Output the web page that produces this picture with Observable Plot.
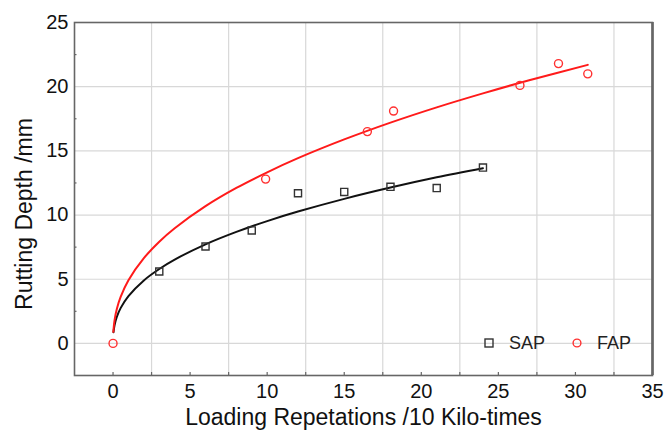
<!DOCTYPE html>
<html>
<head>
<meta charset="utf-8">
<script src="https://cdn.jsdelivr.net/npm/d3@7"></script>
<script src="https://cdn.jsdelivr.net/npm/@observablehq/plot@0.6"></script>
<style>
  html, body { margin: 0; padding: 0; background: #fff; }
  #wrap { position: relative; width: 665px; height: 439px; font-family: "Liberation Sans", Arial, sans-serif; }
  .leg { position: absolute; font-size: 18px; color: #222; line-height: 1; }
</style>
</head>
<body>
<div id="wrap"></div>
<script>
// ---- data ----
const sapX = [3, 6, 9, 12, 15, 18, 21, 24];
const sapY = [5.6, 7.55, 8.8, 11.7, 11.8, 12.2, 12.1, 13.7];

const fapX = [0, 9.9, 16.5, 18.2, 26.4, 28.9, 30.8];
const fapY = [0, 12.8, 16.5, 18.1, 20.1, 21.8, 21.0];

// fitted curves
const sapFitX = [0.03, 0.1, 0.25, 0.5, 1, 2, 3, 4, 6, 8, 10, 12, 15, 18, 21, 24];
const sapFitY = [0.87, 1.43, 2.08, 2.77, 3.69, 4.91, 5.80, 6.53, 7.72, 8.69, 9.53, 10.27, 11.26, 12.14, 12.94, 13.65];

const fapFitX = [0.02, 0.1, 0.25, 0.5, 1, 2, 3, 4, 6, 8, 10, 12, 15, 18, 21, 24, 27, 30.8];
const fapFitY = [0.90, 1.82, 2.70, 3.64, 4.92, 6.64, 7.92, 8.97, 10.69, 12.11, 13.33, 14.43, 15.89, 17.20, 18.39, 19.48, 20.50, 21.70];

const xDomain = [-2.5, 35];
const yDomain = [-2.5, 25];
const xTicks = [0, 5, 10, 15, 20, 25, 30, 35];
const xGrid = [2.5, 7.5, 12.5, 17.5, 22.5, 27.5, 32.5];
const yTicks = [0, 5, 10, 15, 20, 25];
const yGrid = [0, 5, 10, 15, 20];
const yMinor = [2.5, 7.5, 12.5, 17.5, 22.5];

const xLabel = "Loading Repetations /10 Kilo-times";
const yLabel = "Rutting Depth /mm";
const seriesNames = ["SAP", "FAP"];

// ---- build ----
const W = 665, H = 439;
const mL = 74, mT = 22, mR = 13, mB = 64;
const plotW = W - mL - mR, plotH = H - mT - mB;

const sap = sapX.map((x, i) => ({x, y: sapY[i]}));
const fap = fapX.map((x, i) => ({x, y: fapY[i]}));
const sapFit = sapFitX.map((x, i) => ({x, y: sapFitY[i]}));
const fapFit = fapFitX.map((x, i) => ({x, y: fapFitY[i]}));

const gridColor = "#d8d8d8";
const axisColor = "#666";

const chart = Plot.plot({
  width: W, height: H,
  marginLeft: mL, marginTop: mT, marginRight: mR, marginBottom: mB,
  style: {fontFamily: "Liberation Sans, Arial, sans-serif", fontSize: "20px", color: "#111", background: "white"},
  x: {domain: xDomain},
  y: {domain: yDomain},
  marks: [
    Plot.ruleX(xGrid, {x: d => d, stroke: gridColor, strokeWidth: 1.2}),
    Plot.ruleY(yGrid, {y: d => d, stroke: gridColor, strokeWidth: 1.2}),
    // inward ticks
    Plot.ruleX(xTicks, {x: d => d, insetTop: plotH - 3, stroke: axisColor, strokeWidth: 1.2}),
    Plot.ruleX(xGrid, {x: d => d, insetTop: plotH - 3, stroke: axisColor, strokeWidth: 1.2}),
    Plot.ruleY(yMinor, {y: d => d, insetRight: plotW - 2.5, stroke: axisColor, strokeWidth: 1.2}),
    Plot.axisX({ticks: xTicks, tickSize: 0, tickPadding: 8, label: null, fontSize: 20}),
    Plot.axisY({ticks: yTicks, tickSize: 0, tickPadding: 6, label: null, fontSize: 20}),
    Plot.frame({stroke: axisColor, strokeWidth: 1.6}),
    Plot.ruleX([xDomain[1]], {x: d => d, stroke: axisColor, strokeWidth: 2.6}),
    Plot.line(sapFit, {x: "x", y: "y", curve: "catmull-rom", stroke: "#111", strokeWidth: 2}),
    Plot.line(fapFit, {x: "x", y: "y", curve: "catmull-rom", stroke: "#ff1a1a", strokeWidth: 2}),
    Plot.dot(sap, {x: "x", y: "y", symbol: "square", r: 4, stroke: "#333", strokeWidth: 1.4, fill: "none"}),
    Plot.dot(fap, {x: "x", y: "y", symbol: "circle", r: 4, stroke: "#ff3030", strokeWidth: 1.4, fill: "none"}),
    Plot.text([xLabel], {text: d => d, frameAnchor: "bottom", dy: 49, fontSize: 23, fill: "#111"}),
    Plot.text([yLabel], {text: d => d, frameAnchor: "left", textAnchor: "middle", dx: -50, dy: 15, rotate: -90, fontSize: 23, fill: "#111"})
  ]
});

const wrap = document.getElementById("wrap");
wrap.appendChild(chart);

// legend overlay
function legendItem(symbolSvg, name, left, top) {
  const d = document.createElement("div");
  d.className = "leg";
  d.style.left = left + "px";
  d.style.top = top + "px";
  d.style.display = "flex";
  d.style.alignItems = "center";
  d.innerHTML = symbolSvg + `<span style="margin-left:15px">${name}</span>`;
  wrap.appendChild(d);
}
legendItem(`<svg width="10" height="10"><rect x="1" y="1" width="8" height="8" fill="none" stroke="#333" stroke-width="1.4"/></svg>`, seriesNames[0], 484, 334);
legendItem(`<svg width="10" height="10"><circle cx="5" cy="5" r="3.9" fill="none" stroke="#ff3030" stroke-width="1.4"/></svg>`, seriesNames[1], 572, 334);
</script>
</body>
</html>
